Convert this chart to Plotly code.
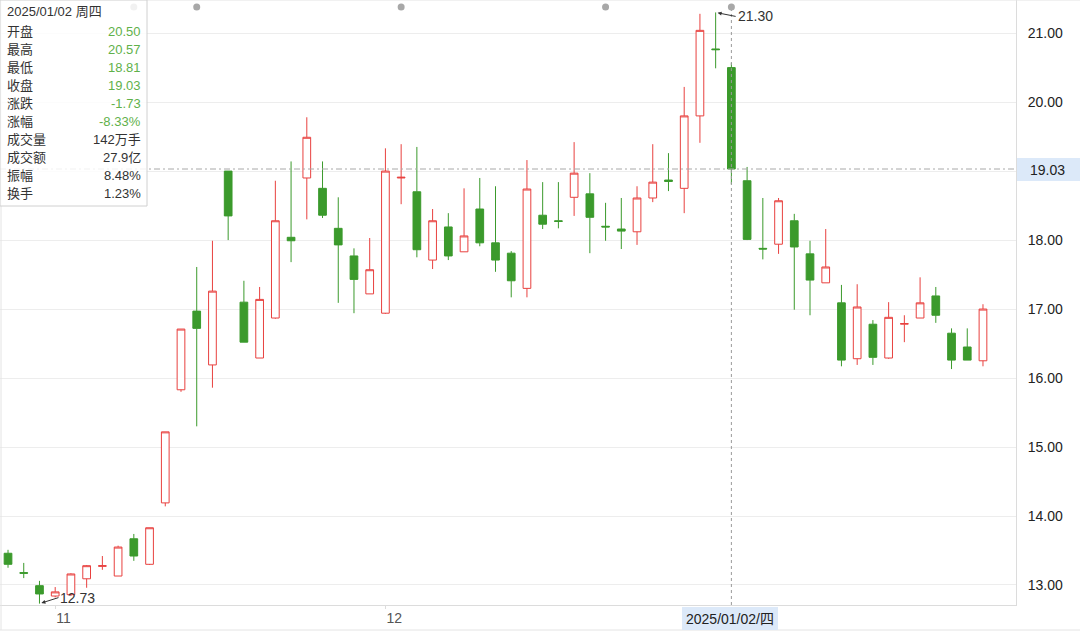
import plotly.graph_objects as go

# ---------------- data ----------------
dates = ['2024-10-29','2024-10-30','2024-10-31','2024-11-01','2024-11-04','2024-11-05','2024-11-06',
         '2024-11-07','2024-11-08','2024-11-11','2024-11-12','2024-11-13','2024-11-14','2024-11-15',
         '2024-11-18','2024-11-19','2024-11-20','2024-11-21','2024-11-22','2024-11-25','2024-11-26',
         '2024-11-27','2024-11-28','2024-11-29','2024-12-02','2024-12-03','2024-12-04','2024-12-05',
         '2024-12-06','2024-12-09','2024-12-10','2024-12-11','2024-12-12','2024-12-13','2024-12-16',
         '2024-12-17','2024-12-18','2024-12-19','2024-12-20','2024-12-23','2024-12-24','2024-12-25',
         '2024-12-26','2024-12-27','2024-12-30','2024-12-31','2025-01-02','2025-01-03','2025-01-06',
         '2025-01-07','2025-01-08','2025-01-09','2025-01-10','2025-01-13','2025-01-14','2025-01-15',
         '2025-01-16','2025-01-17','2025-01-20','2025-01-21','2025-01-22','2025-01-23','2025-01-24']
opens  = [13.46,13.18,12.99,12.84,12.86,13.09,13.27,13.13,13.67,13.30,14.19,15.83,16.97,16.19,
          19.00,17.10,16.29,16.87,18.04,18.90,18.75,18.17,17.77,17.22,16.94,18.90,18.70,17.71,
          18.19,17.83,18.45,17.96,17.81,17.30,18.36,18.28,18.62,18.67,18.20,18.16,18.12,18.61,
          18.87,18.75,19.80,20.77,20.50,18.86,17.88,17.94,18.28,17.80,17.38,17.09,16.28,16.78,
          16.29,16.78,16.87,17.19,16.65,16.45,16.25]
highs  = [13.51,13.32,13.06,12.97,13.17,13.29,13.42,13.57,13.74,13.83,15.22,16.71,17.61,17.99,
          19.00,17.41,17.32,18.86,19.14,19.78,19.14,18.62,17.88,18.03,19.33,19.39,19.35,18.45,
          18.39,18.75,18.90,18.78,17.84,19.16,18.84,18.84,19.42,18.97,18.54,18.61,18.78,19.39,
          19.26,20.22,21.28,21.30,20.57,19.06,18.61,18.61,18.38,17.99,18.16,17.35,17.36,16.84,
          17.10,16.91,17.46,17.32,16.72,16.72,17.07]
lows   = [13.25,13.10,12.73,12.82,12.84,12.96,13.22,13.13,13.35,13.29,14.14,15.80,15.30,15.86,
          18.00,16.52,16.29,16.86,17.68,18.30,18.32,17.09,16.94,17.22,16.93,18.52,17.75,17.58,
          17.71,17.83,17.91,17.54,17.17,17.17,18.16,18.17,18.35,17.81,17.99,17.87,17.93,18.55,
          18.71,18.39,19.41,20.49,18.81,18.00,17.72,17.80,16.99,16.91,17.38,16.17,16.19,16.19,
          16.28,16.52,16.87,16.80,16.13,16.26,16.17]
closes = [13.30,13.17,12.87,12.90,13.16,13.28,13.28,13.55,13.42,13.83,15.22,16.71,16.72,17.26,
          18.35,16.52,17.14,18.28,17.99,19.49,18.36,17.93,17.43,17.57,19.00,18.91,17.86,18.28,
          17.77,18.06,17.96,17.71,17.41,18.74,18.23,18.27,18.97,18.33,18.19,18.13,18.61,18.84,
          18.85,19.80,21.04,20.76,19.03,18.01,17.87,18.57,17.90,17.42,17.61,16.26,17.03,16.30,
          16.88,16.79,17.09,16.91,16.26,16.26,17.00]

month_tick_dates = ['2024-11-01', '2024-12-02']
month_tick_text = ['11', '12']
y_ticks = [13, 14, 15, 16, 17, 18, 19, 20, 21]
# the 19.00 label is hidden behind the crosshair price label in the reference
y_tick_text = ['13.00', '14.00', '15.00', '16.00', '17.00', '18.00', '', '20.00', '21.00']
event_dates = ['2024-11-08', '2024-11-14', '2024-12-03', '2024-12-20', '2025-01-02']

sel_date = '2025-01-02'
sel_label = '2025/01/02/四'
sel_close = 19.03
max_date, max_val = '2024-12-31', 21.30
min_date, min_val = '2024-10-31', 12.73

info_title = '2025/01/02 周四'
info_labels = ['开盘', '最高', '最低', '收盘', '涨跌', '涨幅', '成交量', '成交额', '振幅', '换手']
info_values = ['20.50', '20.57', '18.81', '19.03', '-1.73', '-8.33%', '142万手', '27.9亿', '8.48%', '1.23%']
info_green = [True, True, True, True, True, True, False, False, False, False]

# ---------------- style ----------------
RED = '#e8413f'
GREEN = '#3b9a2c'
VAL_GREEN = '#5fb14a'
FONT = 'Liberation Sans, Arial, Noto Sans CJK SC, sans-serif'
W, H = 1080, 633
PL, PR, PT, PB = 0, 64, 0, 28
PW, PH = W - PL - PR, H - PT - PB
Y_RANGE = [12.71, 21.48]
X_RANGE = [-0.51, 64.1]


def px(x):
    return (x - PL) / PW


def py(y):
    return (PT + PH - y) / PH


fig = go.Figure()
fig.add_trace(go.Candlestick(
    x=dates, open=opens, high=highs, low=lows, close=closes,
    increasing=dict(line=dict(color=RED, width=1), fillcolor='white'),
    decreasing=dict(line=dict(color=GREEN, width=1), fillcolor=GREEN),
    hoverinfo='skip', showlegend=False,
))

# event dots at top
dot_y = Y_RANGE[1] - (Y_RANGE[1] - Y_RANGE[0]) * 7 / PH
fig.add_trace(go.Scatter(
    x=event_dates, y=[dot_y] * len(event_dates), mode='markers',
    marker=dict(size=7, color='#a8a8a8'), cliponaxis=False,
    hoverinfo='skip', showlegend=False,
))

shapes = []
# borders
shapes.append(dict(type='line', xref='paper', yref='paper', x0=0, x1=px(W), y0=1, y1=1,
                   line=dict(color='#e4e4e4', width=1)))
shapes.append(dict(type='line', xref='paper', yref='paper', x0=px(1), x1=px(1), y0=py(H - 3), y1=1,
                   line=dict(color='#e4e4e4', width=1)))
shapes.append(dict(type='line', xref='paper', yref='paper', x0=0, x1=px(W), y0=py(630), y1=py(630),
                   line=dict(color='#e4e4e4', width=1)))
# crosshair
shapes.append(dict(type='line', xref='x', yref='paper', x0=sel_date, x1=sel_date, y0=0, y1=py(10),
                   line=dict(color='#9a9a9a', width=1, dash='3px,3px')))
shapes.append(dict(type='line', xref='paper', yref='y', x0=0, x1=1, y0=sel_close, y1=sel_close,
                   line=dict(color='#a8a8a8', width=1, dash='6px,3px,2px,3px')))
# crosshair label boxes
shapes.append(dict(type='rect', xref='paper', yref='paper', x0=px(1017), x1=px(W), y0=py(181), y1=py(158),
                   fillcolor='#dce9f9', line=dict(width=0), layer='above'))
shapes.append(dict(type='rect', xref='paper', yref='paper', x0=px(682), x1=px(778), y0=py(630), y1=py(607),
                   fillcolor='#dce9f9', line=dict(width=0), layer='above'))
# info box
shapes.append(dict(type='rect', xref='paper', yref='paper', x0=px(0), x1=px(147), y0=py(206), y1=py(0),
                   fillcolor='rgba(255,255,255,0.84)', line=dict(color='#d0d0d0', width=1), layer='above'))

ann = []
ann.append(dict(xref='paper', yref='paper', x=px(1047), y=py(169.5), text=f'{sel_close:.2f}',
                xanchor='center', yanchor='middle',
                showarrow=False, font=dict(size=14, color='#222', family=FONT)))
ann.append(dict(xref='paper', yref='paper', x=px(730), y=py(619), text=sel_label,
                xanchor='center', yanchor='middle',
                showarrow=False, font=dict(size=14, color='#222', family=FONT)))
ann.append(dict(x=max_date, y=max_val, xref='x', yref='y', text=f'{max_val:.2f}', showarrow=True,
                ax=20, ay=4, xanchor='left', yanchor='middle', arrowhead=2, arrowsize=0.8, arrowwidth=1,
                arrowcolor='#333', standoff=2, font=dict(size=14, color='#333', family=FONT)))
ann.append(dict(x=min_date, y=min_val, xref='x', yref='y', text=f'{min_val:.2f}', showarrow=True,
                ax=19, ay=-6, xanchor='left', yanchor='middle', arrowhead=2, arrowsize=0.8, arrowwidth=1,
                arrowcolor='#333', standoff=2, font=dict(size=14, color='#333', family=FONT)))
# info box texts
ann.append(dict(xref='paper', yref='paper', x=px(5), y=py(12), text=info_title,
                xanchor='left', yanchor='middle',
                showarrow=False, font=dict(size=13, color='#333', family=FONT)))
for i, (lab, val, g) in enumerate(zip(info_labels, info_values, info_green)):
    yy = 31 + i * 18.1
    ann.append(dict(xref='paper', yref='paper', x=px(5), y=py(yy), text=lab,
                    xanchor='left', yanchor='middle',
                    showarrow=False, font=dict(size=13, color='#333', family=FONT)))
    ann.append(dict(xref='paper', yref='paper', x=px(143), y=py(yy), text=val,
                    xanchor='right', yanchor='middle',
                    showarrow=False, font=dict(size=13, color=VAL_GREEN if g else '#333', family=FONT)))

fig.update_layout(
    width=W, height=H,
    margin=dict(l=PL, r=PR, t=PT, b=PB),
    paper_bgcolor='white', plot_bgcolor='white',
    font=dict(family=FONT, size=13, color='#333'),
    shapes=shapes, annotations=ann,
    hovermode=False,
    xaxis=dict(type='category', range=X_RANGE, rangeslider=dict(visible=False),
               showgrid=False, zeroline=False, showline=True, linecolor='#dcdcdc',
               tickmode='array', tickvals=month_tick_dates, ticktext=month_tick_text,
               ticks='outside', ticklen=3, tickcolor='#dcdcdc',
               ticklabelposition='outside right',
               tickfont=dict(size=14, color='#555', family=FONT)),
    yaxis=dict(side='right', range=Y_RANGE, tickmode='array', tickvals=y_ticks,
               ticktext=y_tick_text, showgrid=True, gridcolor='#ededed', gridwidth=1,
               zeroline=False, showline=True, linecolor='#dcdcdc', ticks='',
               ticklabelstandoff=8,
               tickfont=dict(size=14, color='#222', family=FONT)),
)

fig.write_html('out.html', config={'displayModeBar': False},
               post_script="document.body.style.margin='0';")
